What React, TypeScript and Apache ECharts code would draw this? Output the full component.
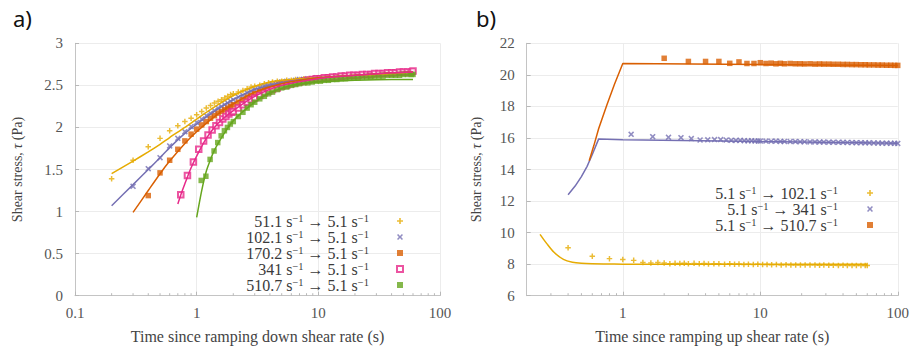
import React, { useEffect, useRef } from 'react';
import * as echarts from 'echarts';

const SERIF = "'Liberation Serif', serif";
const C_YEL = '#E6AB02';
const C_PUR = '#7570B3';
const C_ORA = '#D95F02';
const C_PNK = '#E7298A';
const C_GRN = '#66A61E';

// ---------- Panel a) data ----------
const tLeftLate = [2.0, 2.2, 2.4, 2.6, 2.8, 3.0, 3.3, 3.6, 3.9, 4.2, 4.6, 5.0, 5.5, 6.0, 6.5, 7.0, 7.6, 8.2, 8.9, 9.6, 10.4, 11.2, 12.1, 13.1, 14.2, 15.4, 16.7, 18.1, 19.6, 21.2, 23, 25, 27, 29, 31.5, 34, 37, 40, 43, 46.5, 50, 54, 58, 60];

const a51Early = [[0.2, 1.39], [0.3, 1.61], [0.4, 1.77], [0.5, 1.87], [0.6, 1.96], [0.7, 2.02], [0.8, 2.07], [0.9, 2.11], [1.0, 2.15], [1.1, 2.19], [1.2, 2.23], [1.3, 2.26], [1.4, 2.29], [1.5, 2.31], [1.6, 2.33], [1.7, 2.35], [1.8, 2.37], [1.9, 2.39]];
const a51Late = [2.40, 2.42, 2.44, 2.46, 2.48, 2.49, 2.50, 2.52, 2.53, 2.54, 2.55, 2.55, 2.56, 2.56, 2.57, 2.57, 2.58, 2.58, 2.58, 2.59, 2.59, 2.59, 2.60, 2.60, 2.60, 2.61, 2.61, 2.61, 2.62, 2.62, 2.62, 2.62, 2.63, 2.63, 2.63, 2.63, 2.64, 2.64, 2.64, 2.64, 2.65, 2.65, 2.65, 2.65];

const a102Early = [[0.3, 1.3], [0.4, 1.51], [0.5, 1.64], [0.6, 1.78], [0.7, 1.87], [0.8, 1.95], [0.9, 2.01], [1.0, 2.06], [1.1, 2.1], [1.2, 2.14], [1.3, 2.17], [1.4, 2.2], [1.5, 2.23], [1.6, 2.25], [1.7, 2.27], [1.8, 2.29], [1.9, 2.31]];
const a102Late = [2.33, 2.36, 2.38, 2.41, 2.43, 2.45, 2.47, 2.49, 2.50, 2.51, 2.53, 2.54, 2.55, 2.55, 2.56, 2.57, 2.57, 2.58, 2.58, 2.59, 2.59, 2.59, 2.60, 2.60, 2.60, 2.61, 2.61, 2.61, 2.62, 2.62, 2.62, 2.63, 2.63, 2.63, 2.63, 2.64, 2.64, 2.64, 2.64, 2.65, 2.65, 2.65, 2.65, 2.66];

const a170Early = [[0.4, 1.19], [0.5, 1.46], [0.6, 1.61], [0.7, 1.74], [0.8, 1.84], [0.9, 1.92], [1.0, 1.98], [1.1, 2.03], [1.2, 2.07], [1.3, 2.11], [1.4, 2.14], [1.5, 2.17], [1.6, 2.19], [1.7, 2.21], [1.8, 2.23], [1.9, 2.25]];
const a170Late = [2.27, 2.30, 2.33, 2.36, 2.38, 2.40, 2.43, 2.45, 2.47, 2.48, 2.50, 2.51, 2.52, 2.53, 2.54, 2.55, 2.56, 2.56, 2.57, 2.58, 2.58, 2.59, 2.59, 2.60, 2.60, 2.60, 2.61, 2.61, 2.61, 2.62, 2.62, 2.62, 2.63, 2.63, 2.63, 2.64, 2.64, 2.64, 2.65, 2.65, 2.65, 2.65, 2.66, 2.66];

const a341Early = [[0.74, 1.2], [0.84, 1.43], [0.94, 1.59], [1.04, 1.74], [1.14, 1.84], [1.24, 1.91], [1.34, 1.97], [1.44, 2.02], [1.54, 2.06], [1.64, 2.1], [1.74, 2.13], [1.84, 2.16], [1.94, 2.18]];
const a341Late = [2.19, 2.23, 2.27, 2.30, 2.33, 2.35, 2.38, 2.41, 2.43, 2.45, 2.47, 2.49, 2.50, 2.52, 2.53, 2.54, 2.55, 2.56, 2.57, 2.58, 2.58, 2.59, 2.59, 2.60, 2.60, 2.61, 2.61, 2.62, 2.62, 2.62, 2.63, 2.63, 2.63, 2.64, 2.64, 2.64, 2.65, 2.65, 2.65, 2.66, 2.66, 2.66, 2.66, 2.67];

const a510Early = [[1.09, 1.37], [1.19, 1.42], [1.29, 1.62], [1.39, 1.72], [1.49, 1.82], [1.59, 1.9], [1.69, 1.96], [1.79, 2.0], [1.89, 2.04]];
const a510Late = [2.07, 2.13, 2.18, 2.23, 2.27, 2.30, 2.34, 2.37, 2.40, 2.42, 2.45, 2.47, 2.48, 2.50, 2.51, 2.52, 2.53, 2.53, 2.54, 2.55, 2.55, 2.56, 2.56, 2.57, 2.57, 2.58, 2.58, 2.59, 2.59, 2.59, 2.60, 2.60, 2.60, 2.61, 2.61, 2.61, 2.62, 2.62, 2.62, 2.62, 2.63, 2.63, 2.63, 2.63];

const a51Fit = [[0.2, 1.45], [0.3, 1.6], [0.4, 1.71], [0.5, 1.8], [0.6, 1.88], [0.8, 2.0], [1, 2.1], [1.5, 2.27], [2, 2.38], [3, 2.49], [4, 2.54], [5, 2.56], [7, 2.58], [10, 2.59], [20, 2.62], [40, 2.64], [60, 2.66]];
const a102Fit = [[0.2, 1.07], [0.3, 1.32], [0.4, 1.5], [0.5, 1.64], [0.6, 1.76], [0.8, 1.93], [1, 2.04], [1.5, 2.22], [2, 2.33], [3, 2.45], [5, 2.53], [10, 2.59], [20, 2.62], [40, 2.65], [60, 2.66]];
const a170Fit = [[0.3, 0.99], [0.4, 1.25], [0.5, 1.45], [0.6, 1.6], [0.8, 1.81], [1, 1.95], [1.5, 2.16], [2, 2.28], [3, 2.42], [5, 2.52], [10, 2.59], [20, 2.62], [40, 2.65], [60, 2.66]];
const a341Fit = [[0.7, 1.09], [0.75, 1.22], [0.8, 1.33], [0.9, 1.52], [1, 1.66], [1.2, 1.87], [1.5, 2.05], [2, 2.2], [3, 2.37], [5, 2.5], [10, 2.58], [20, 2.62], [40, 2.65], [60, 2.66]];
const a510Fit = [[1, 0.93], [1.1, 1.25], [1.2, 1.48], [1.3, 1.62], [1.4, 1.73], [1.6, 1.88], [2, 2.08], [3, 2.3], [4, 2.41], [6, 2.5], [10, 2.54], [20, 2.56], [40, 2.57], [60, 2.57]];

const leftFrom = ['51.1', '102.1', '170.2', '341', '510.7'];
const leftTo = ['5.1', '5.1', '5.1', '5.1', '5.1'];

// ---------- Panel b) data ----------
const tRightLate = [10, 11, 12, 13, 14, 15, 16.5, 18, 19.5, 21, 23, 25, 27, 29, 31.5, 34, 37, 40, 43, 46.5, 50, 54, 58, 62, 67, 72, 77, 83, 89, 95, 100];

const b102Early = [[0.4, 9.04], [0.6, 8.5], [0.8, 8.35], [1.0, 8.3], [1.2, 8.24], [1.4, 8.1], [1.6, 8.08], [1.8, 8.1]];
const b102Late = [8.07, 8.02, 8.05, 8.04, 8.06, 8.03, 8.05, 8.02, 8.04, 8.01, 8.03, 8.02, 8.0, 8.02, 7.99, 8.01, 7.98, 8.0, 7.97, 7.99, 7.97, 7.98, 7.96, 7.97, 7.95, 7.96, 7.95, 7.95, 7.94, 7.95, 7.94, 7.94, 7.93, 7.94, 7.93, 7.93, 7.92, 7.93, 7.92, 7.92, 7.92, 7.91, 7.91, 7.91];

const b341Early = [[1.15, 16.23], [1.65, 16.08], [2.15, 16.04], [2.65, 16.02], [3.15, 15.96], [3.65, 15.87], [4.15, 15.88], [4.65, 15.9], [5.15, 15.9], [5.65, 15.87], [6.15, 15.85], [6.65, 15.84], [7.15, 15.85], [7.65, 15.83], [8.15, 15.82], [8.65, 15.83], [9.15, 15.81], [9.65, 15.81]];
const b341Late = [15.8, 15.8, 15.79, 15.8, 15.78, 15.78, 15.77, 15.77, 15.76, 15.76, 15.75, 15.75, 15.74, 15.74, 15.73, 15.73, 15.72, 15.72, 15.71, 15.71, 15.7, 15.7, 15.69, 15.69, 15.68, 15.68, 15.67, 15.67, 15.66, 15.66, 15.65];

const b510Early = [[2, 21.05], [3, 20.85], [4, 20.85], [5, 20.85], [6, 20.73], [7, 20.82], [8, 20.72], [9, 20.72]];
const b510Late = [20.77, 20.72, 20.74, 20.7, 20.73, 20.7, 20.72, 20.7, 20.7, 20.69, 20.7, 20.68, 20.69, 20.68, 20.68, 20.67, 20.67, 20.66, 20.66, 20.65, 20.65, 20.64, 20.64, 20.63, 20.63, 20.62, 20.62, 20.61, 20.61, 20.6, 20.6];

const b102Fit = [[0.25, 9.89], [0.28, 9.3], [0.316, 8.75], [0.37, 8.3], [0.43, 8.12], [0.5, 8.05], [0.6, 8.02], [0.8, 8.01], [1, 8.0], [10, 8.0], [60, 7.99]];
const b341Fit = [[0.4, 12.4], [0.45, 12.95], [0.5, 13.55], [0.55, 14.2], [0.6, 14.95], [0.668, 15.94], [1, 15.88], [10, 15.77], [100, 15.66]];
const b510Fit = [[0.57, 14.55], [0.615, 15.5], [0.668, 16.6], [0.767, 18.1], [0.87, 19.4], [1.0, 20.72], [10, 20.66], [100, 20.6]];

const rightFrom = ['5.1', '5.1', '5.1'];
const rightTo = ['102.1', '341', '510.7'];

const leftMinorTicks = [0.2, 0.3, 0.4, 0.5, 0.6, 0.7, 0.8, 0.9, 2, 3, 4, 5, 6, 7, 8, 9, 20, 30, 40, 50, 60, 70, 80, 90];
const rightMinorTicks = [0.3, 0.4, 0.5, 0.6, 0.7, 0.8, 0.9, 2, 3, 4, 5, 6, 7, 8, 9, 20, 30, 40, 50, 60, 70, 80, 90];

// ---------- helpers ----------
const SYM_PLUS = 'path://M2.2,0H3.8V2.2H6V3.8H3.8V6H2.2V3.8H0V2.2H2.2Z';
const SYM_X = 'path://M0,1.1L1.1,0L3,1.9L4.9,0L6,1.1L4.1,3L6,4.9L4.9,6L3,4.1L1.1,6L0,4.9L1.9,3Z';

const zip = (ts: number[], ys: number[]) => ts.map((t, i) => [t, ys[i]]);
const legName = (a: string, b: string) => `${a} s⁻¹ → ${b} s⁻¹`;
const legRich = (a: string, b: string) => `{n|${a} s}{s|−1}{n| → ${b} s}{s|−1}`;

const TXT = '#3a3a3a';
const richStyles = {
  n: { fontFamily: SERIF, fontSize: 16, color: TXT, lineHeight: 15.6 },
  s: { fontFamily: SERIF, fontSize: 10.5, color: TXT, lineHeight: 9, verticalAlign: 'top' },
};

function scatter(name: string, xi: number, data: number[][], symbol: string, size: number, color: string, empty = false) {
  return {
    type: 'scatter', name, xAxisIndex: xi, yAxisIndex: xi, data, symbol, symbolSize: size, clip: false,
    itemStyle: empty ? { color, borderColor: color, borderWidth: 1.2 } : { color },
    emphasis: { disabled: true },
  };
}
function fit(name: string, xi: number, data: number[][], color: string, smooth: number | boolean) {
  return {
    type: 'line', name, xAxisIndex: xi, yAxisIndex: xi, data, showSymbol: false, smooth,
    lineStyle: { color, width: 1.5 }, itemStyle: { color }, emphasis: { disabled: true }, silent: true,
  };
}
function minorTicks(xi: number, values: number[], yBase: number) {
  return {
    type: 'custom', xAxisIndex: xi, yAxisIndex: xi, silent: true, clip: false, z: 1,
    data: values.map((v) => [v, yBase]),
    renderItem: (_p: any, api: any) => {
      const p = api.coord([api.value(0), api.value(1)]);
      return { type: 'line', shape: { x1: p[0], y1: p[1], x2: p[0], y2: p[1] - 2.5 }, style: { stroke: '#b8b8b8', lineWidth: 1 } };
    },
  };
}

const axisCommon = {
  axisLine: { lineStyle: { color: '#c4c4c4', width: 1 } },
  axisTick: { inside: true, length: 4, lineStyle: { color: '#b8b8b8' } },
  splitLine: { show: true, lineStyle: { color: '#ececec', width: 1 } },
  axisLabel: { fontFamily: SERIF, fontSize: 15, color: '#555' },
};

const yName = '{n|Shear stress, }{i|τ}{n| (Pa)}';
const yNameStyle = {
  fontFamily: SERIF, fontSize: 14, color: '#444', fontWeight: 'normal',
  rich: {
    n: { fontFamily: SERIF, fontSize: 14, color: '#444', fontWeight: 'normal' },
    i: { fontFamily: SERIF, fontSize: 14, color: '#444', fontStyle: 'italic', fontWeight: 'normal' },
  },
};
const xNameStyle = { fontFamily: SERIF, fontSize: 16, color: '#444', fontWeight: 'normal' };

export default function App() {
  const ref = useRef<HTMLDivElement>(null);
  useEffect(() => {
    const chart = echarts.init(ref.current!, null, { renderer: 'svg' });
    const leftNames = leftFrom.map((a, i) => legName(a, leftTo[i]));
    const rightNames = rightFrom.map((a, i) => legName(a, rightTo[i]));
    const richMap: Record<string, string> = {};
    leftFrom.forEach((a, i) => (richMap[leftNames[i]] = legRich(a, leftTo[i])));
    rightFrom.forEach((a, i) => (richMap[rightNames[i]] = legRich(a, rightTo[i])));

    const option: any = {
      animation: false,
      backgroundColor: '#fff',
      title: [
        { text: 'a)', left: 13, top: 5, padding: 0, textStyle: { fontFamily: 'Noto Sans', fontSize: 22, fontWeight: 'normal', color: '#111', lineHeight: 26 } },
        { text: 'b)', left: 476, top: 5, padding: 0, textStyle: { fontFamily: 'Noto Sans', fontSize: 22, fontWeight: 'normal', color: '#111', lineHeight: 26 } },
      ],
      grid: [
        { left: 75, top: 43.3, width: 365, height: 252.4 },
        { left: 526.7, top: 43.3, width: 373.3, height: 252.4 },
      ],
      xAxis: [
        {
          type: 'log', gridIndex: 0, min: 0.1, max: 100, logBase: 10, ...axisCommon,
          axisLabel: { ...axisCommon.axisLabel, margin: 10 },
          name: 'Time since ramping down shear rate (s)', nameLocation: 'middle', nameGap: 33,
          nameTextStyle: xNameStyle,
        },
        {
          type: 'log', gridIndex: 1, min: 0.2, max: 100, logBase: 10, ...axisCommon,
          axisLabel: { ...axisCommon.axisLabel, margin: 10, showMinLabel: false },
          name: 'Time since ramping up shear rate (s)', nameLocation: 'middle', nameGap: 33,
          nameTextStyle: xNameStyle,
        },
      ],
      yAxis: [
        {
          type: 'value', gridIndex: 0, min: 0, max: 3, interval: 0.5, ...axisCommon,
          axisLabel: { ...axisCommon.axisLabel, margin: 12 },
          name: yName, nameLocation: 'middle', nameGap: 51, nameRotate: 90, nameTextStyle: yNameStyle,
        },
        {
          type: 'value', gridIndex: 1, min: 6, max: 22, interval: 2, ...axisCommon,
          axisLabel: { ...axisCommon.axisLabel, margin: 12 },
          name: yName, nameLocation: 'middle', nameGap: 43, nameRotate: 90, nameTextStyle: yNameStyle,
        },
      ],
      legend: [
        {
          data: leftNames, orient: 'vertical', align: 'right', right: 508, top: 213, padding: 0,
          itemGap: 0, itemWidth: 6, itemHeight: 6, selectedMode: false,
          formatter: (n: string) => richMap[n],
          textStyle: { padding: [0, 23, 0, 0], rich: richStyles },
        },
        {
          data: rightNames, orient: 'vertical', align: 'right', right: 39, top: 185, padding: 0,
          itemGap: 0, itemWidth: 6, itemHeight: 6, selectedMode: false,
          formatter: (n: string) => richMap[n],
          textStyle: { padding: [0, 24, 0, 0], rich: richStyles },
        },
      ],
      series: [
        minorTicks(0, leftMinorTicks, 0),
        minorTicks(1, rightMinorTicks, 6),
        scatter(leftNames[0], 0, [...a51Early, ...zip(tLeftLate, a51Late)], SYM_PLUS, 5.5, C_YEL),
        fit('fit51', 0, a51Fit, C_YEL, 0.25),
        scatter(leftNames[1], 0, [...a102Early, ...zip(tLeftLate, a102Late)], SYM_X, 6, C_PUR),
        fit('fit102', 0, a102Fit, C_PUR, 0.25),
        scatter(leftNames[2], 0, [...a170Early, ...zip(tLeftLate, a170Late)], 'rect', 5.5, C_ORA),
        fit('fit170', 0, a170Fit, C_ORA, 0.25),
        scatter(leftNames[3], 0, [...a341Early, ...zip(tLeftLate, a341Late)], 'emptyRect', 5.5, C_PNK, true),
        fit('fit341', 0, a341Fit, C_PNK, 0.25),
        scatter(leftNames[4], 0, [...a510Early, ...zip(tLeftLate, a510Late)], 'rect', 5.5, C_GRN),
        fit('fit510', 0, a510Fit, C_GRN, 0.25),

        scatter(rightNames[0], 1, [...b102Early, ...zip(tLeftLate, b102Late)], SYM_PLUS, 5.5, C_YEL),
        fit('fitb102', 1, b102Fit, C_YEL, 0.3),
        scatter(rightNames[1], 1, [...b341Early, ...zip(tRightLate, b341Late)], SYM_X, 6, C_PUR),
        fit('fitb341', 1, b341Fit, C_PUR, false),
        scatter(rightNames[2], 1, [...b510Early, ...zip(tRightLate, b510Late)], 'rect', 5.5, C_ORA),
        fit('fitb510', 1, b510Fit, C_ORA, false),
      ],
    };
    chart.setOption(option);
    return () => chart.dispose();
  }, []);
  return <div ref={ref} style={{ position: 'fixed', left: 0, top: 0, width: 912, height: 351, background: '#fff' }} />;
}
